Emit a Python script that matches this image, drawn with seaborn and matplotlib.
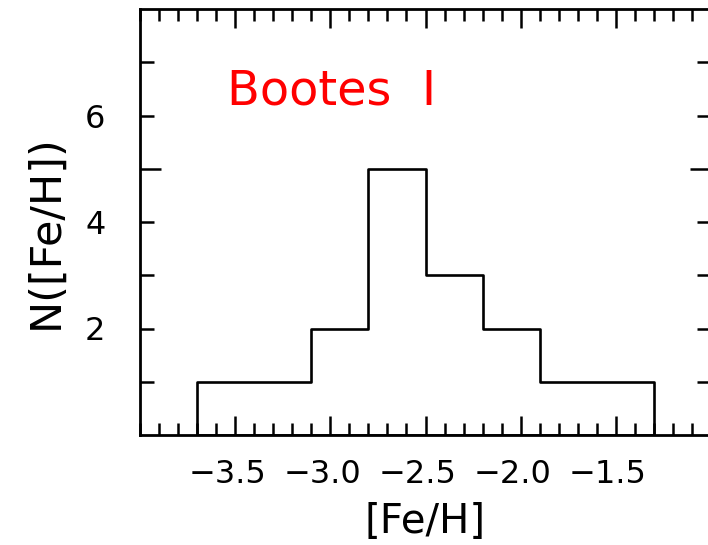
import numpy as np
import pandas as pd
import matplotlib
matplotlib.use("Agg")
import matplotlib.pyplot as plt
import matplotlib.transforms as mtransforms
import seaborn as sns
from matplotlib.ticker import FixedLocator, MultipleLocator

# ---- data ----
bin_edges = [-3.7, -3.4, -3.1, -2.8, -2.5, -2.2, -1.9, -1.6, -1.3]
counts = [1, 1, 2, 5, 3, 2, 1, 1]
x_major_ticks = [-3.5, -3.0, -2.5, -2.0, -1.5]
x_tick_labels = ["\u22123.5", "\u22123.0", "\u22122.5", "\u22122.0", "\u22121.5"]
y_ticks = [2, 4, 5, 6]
y_tick_labels = ["2", "4", "", "6"]
title_text = "Bootes  I"

edges = np.array(bin_edges)
centers = (edges[:-1] + edges[1:]) / 2
df = pd.DataFrame({"feh": centers, "n": counts})

sns.set_style("ticks")
plt.rcParams["font.family"] = ["DejaVu Sans"]
plt.rcParams["text.color"] = "black"
plt.rcParams["axes.labelcolor"] = "black"
plt.rcParams["xtick.color"] = "black"
plt.rcParams["ytick.color"] = "black"

fig = plt.figure(figsize=(7.08, 5.45), dpi=100)
ax = fig.add_axes([140 / 708, 1 - 435 / 545, 571 / 708, 426 / 545])

sns.histplot(data=df, x="feh", weights="n", bins=bin_edges, element="step",
             fill=True, color="black", facecolor="none", edgecolor="black",
             linewidth=1.9, alpha=1, ax=ax)

ax.set_xlim(-4.0, -1.0)
ax.set_ylim(0, 8)

for s in ax.spines.values():
    s.set_linewidth(2.0)
    s.set_color("black")
    s.set_visible(True)

ax.xaxis.set_major_locator(FixedLocator(x_major_ticks))
ax.set_xticklabels(x_tick_labels)
ax.xaxis.set_minor_locator(MultipleLocator(0.1))
ax.yaxis.set_major_locator(FixedLocator(y_ticks))
ax.set_yticklabels(y_tick_labels)
ax.yaxis.set_minor_locator(FixedLocator([1, 3, 7]))

ax.tick_params(axis="both", which="both", direction="in", top=True, right=True,
               width=1.8, color="black", labelcolor="black", labelsize=23)
ax.tick_params(axis="x", which="major", length=13.7, pad=17.0)
ax.tick_params(axis="x", which="minor", length=8.9)
ax.tick_params(axis="y", which="major", length=10.0, pad=25)
ax.tick_params(axis="y", which="minor", length=10.0)

# longer tick at y = 5
for t in ax.yaxis.get_major_ticks():
    if abs(t.get_loc() - 5) < 1e-9:
        t.tick1line.set_markersize(14.9)
        t.tick2line.set_markersize(14.9)

# x tick labels sit slightly left of their ticks in the reference
shift = mtransforms.ScaledTranslation(-8 / 100, 0, fig.dpi_scale_trans)
for lbl in ax.get_xticklabels():
    lbl.set_transform(lbl.get_transform() + shift)

ax.set_xlabel("[Fe/H]", fontsize=29, color="black")
ax.set_ylabel("N([Fe/H])", fontsize=31, color="black")
ax.xaxis.set_label_coords(0.5, -0.158)
ax.yaxis.set_label_coords(-0.128, 0.4765)

ax.text(-3.545, 6.21, title_text, color="red", fontsize=34.5, va="baseline",
        ha="left")

fig.savefig("out.png", dpi=100)
